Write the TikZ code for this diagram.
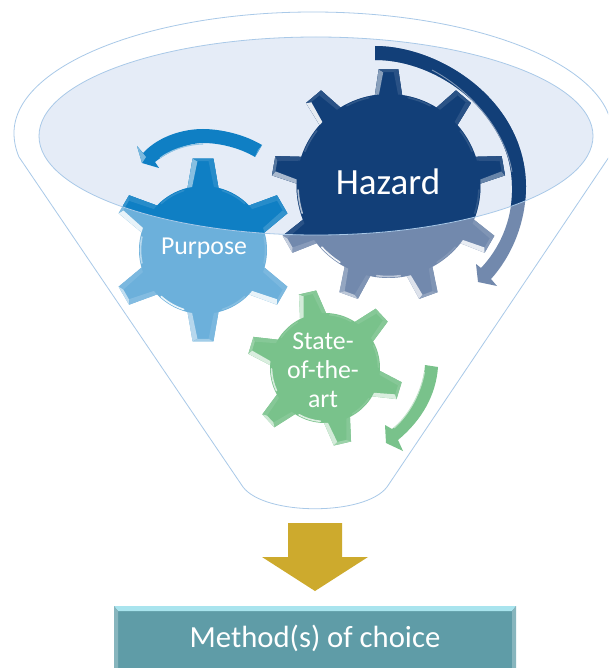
\documentclass[tikz,border=0pt]{standalone}
\usepackage{fontspec}
\setmainfont{Carlito}
\definecolor{funnelline}{HTML}{A9C9E8}
\definecolor{ellfill}{HTML}{E5ECF7}
\definecolor{hazdark}{HTML}{123F78}
\definecolor{hazlight}{HTML}{7289AD}
\definecolor{purdark}{HTML}{0F7FC4}
\definecolor{purlight}{HTML}{6CB0DB}
\definecolor{stategreen}{HTML}{79C28B}
\definecolor{arrowgold}{HTML}{CDAA2D}
\definecolor{boxteal}{HTML}{5F9CA7}
\definecolor{boxlight}{HTML}{A9E4EE}
% gear: #1 cx, #2 cy (px down), #3 body r, #4 tip R, #5 teeth, #6 rot, #7 base half angle, #8 tip half angle, #9 colour
\newcommand{\mygear}[9]{%
  \begin{scope}[shift={(#1,-#2)}]
    \fill[#9] ({#6+#7}:#3)
      \foreach \i [evaluate=\i as \a using {#6-(\i-1)*360/#5}] in {1,...,#5}{
        -- ({\a+#7}:#3) -- ({\a+#8}:#4) -- ({\a-#8}:#4) -- ({\a-#7}:#3)
        arc[start angle={\a-#7}, end angle={\a-360/#5+#7}, radius=#3]
      } -- cycle;
    \foreach \i in {1,...,#5}{
      \pgfmathsetmacro\a{#6-(\i-1)*360/#5}
      \pgfmathsetmacro\bm{12+80*max(0,cos(\a-180/#5-225))^2}
      \pgfmathsetmacro\bl{10+80*max(0,cos(\a+90-225))^2}
      \pgfmathsetmacro\br{10+80*max(0,cos(\a-90-225))^2}
      \pgfmathsetmacro\bt{12+50*max(0,cos(\a-225))^2}
      \draw[white!\bm!#9, line width=1.6pt, line cap=round]
        ({\a-#7-4}:{#3-1.5}) arc[start angle={\a-#7-4}, end angle={\a-360/#5+#7+4}, radius={#3-1.5}];
      \fill[white!\bl!#9] ({\a+#7}:#3) -- ({\a+#8}:#4) -- ({\a+0.55*#8}:{#4-3}) -- ({\a+0.7*#7}:#3) -- cycle;
      \fill[white!\br!#9] ({\a-#7}:#3) -- ({\a-#8}:#4) -- ({\a-0.55*#8}:{#4-3}) -- ({\a-0.7*#7}:#3) -- cycle;
      \fill[white!\bt!#9] ({\a+#8}:#4) -- ({\a-#8}:#4) -- ({\a-0.55*#8}:{#4-3}) -- ({\a+0.55*#8}:{#4-3}) -- cycle;
    }
  \end{scope}%
}
\newcommand{\hazardgear}[1]{\mygear{388.5}{186}{92}{117}{9}{90}{8.5}{4.8}{#1}}
\newcommand{\purposegear}[1]{\mygear{203}{250}{64}{92}{6}{90}{14}{6.5}{#1}}
\newcommand{\hazardarrow}[1]{%
  \fill[#1] (375,-46) .. controls (440,-46) and (525,-100) .. (526,-186)
    .. controls (526,-225) and (510,-258) .. (491,-279)
    -- (497,-286) -- (478,-282) -- (476,-264) -- (481,-268)
    .. controls (498,-250) and (513,-222) .. (512,-186)
    .. controls (511,-115) and (440,-60) .. (375,-60) -- cycle;
  \draw[white!45!#1, line width=0.9pt]
    (432,-70) .. controls (470,-90) and (505,-130) .. (512,-172);
}
\tikzset{
  gearlabel/.style={text=white, font=\fontsize{25.8}{29}\selectfont, align=center, inner sep=0pt},
  funnel/.style={draw=funnelline, line width=0.8pt}
}
\begin{document}
\begin{tikzpicture}[x=1pt,y=1pt]
  \clip (0,-668) rectangle (608,0);
  \fill[white] (0,-668) rectangle (608,0);
  % funnel
  \draw[funnel] (243,-487) -- (19,-157) .. controls (16,-150) and (14,-142) .. (14,-133)
    arc[start angle=180, end angle=0, x radius=299, y radius=121]
    .. controls (612,-142) and (611,-150) .. (609,-157) -- (387,-487)
    .. controls (365,-516) and (265,-516) .. (243,-487);
  \fill[ellfill] (316,-136) ellipse [x radius=277, y radius=99];
  % washed-out part of the gears
  \hazardgear{hazlight}
  \purposegear{purlight}
  \hazardarrow{hazlight}
  % part of the gears seen through the funnel mouth
  \begin{scope}
    \clip (316,-136) ellipse [x radius=277, y radius=99];
    \hazardgear{hazdark}
    \purposegear{purdark}
    \hazardarrow{hazdark}
  \end{scope}
  \draw[funnel] (316,-136) ellipse [x radius=277, y radius=99];
  % purpose arrow
  \fill[purdark] (262,-145) .. controls (240,-132) and (215,-129) .. (203,-129)
    .. controls (185,-129) and (160,-135) .. (143,-153)
    -- (137,-146) -- (142,-163) -- (159,-168) -- (155,-162)
    .. controls (170,-150) and (190,-143) .. (203,-143)
    .. controls (220,-143) and (240,-148) .. (255,-157) -- cycle;
  \draw[white!55!purdark, line width=1.1pt]
    (160,-158) .. controls (172,-149) and (190,-144) .. (203,-144);
  \fill[white!45!purdark] (137,-146) -- (142,-163) -- (146,-157) -- cycle;
  \fill[white!35!purdark] (262,-145) -- (255,-157) -- (258,-150) -- cycle;
  % state gear and arrow
  \mygear{325}{368}{55}{78}{6}{103}{14}{6.5}{stategreen}
  \fill[stategreen] (438,-367) .. controls (436,-395) and (422,-420) .. (398,-440)
    -- (403,-451) -- (386,-443) -- (385,-425) -- (392,-429)
    .. controls (410,-415) and (423,-392) .. (425,-365) -- cycle;
  \draw[white!55!stategreen, line width=1pt] (424.5,-372) .. controls (421,-392) and (410,-414) .. (394,-428);
  % texts
  \node[text=white, font=\fontsize{37}{40}\selectfont, inner sep=0pt] (hazard) at (388,-182) {Hazard};
  \node[gearlabel] (purpose) at (204,-248) {Purpose};
  \node[gearlabel] (state) at (323,-370) {State-\\of-the-\\art};
  % gold arrow
  \fill[arrowgold] (288,-523) -- (342,-523) -- (342,-557) -- (368,-557) -- (315,-591)
    -- (262,-557) -- (288,-557) -- cycle;
  % result box
  \fill[boxteal] (114,-606) rectangle (516,-668);
  \fill[boxlight] (114,-606) -- (516,-606) -- (512,-611) -- (118,-611) -- cycle;
  \fill[white!25!boxteal] (114,-606) -- (118,-611) -- (118,-668) -- (114,-668) -- cycle;
  \fill[white!25!boxteal] (516,-606) -- (512,-611) -- (512,-668) -- (516,-668) -- cycle;
  \node[text=white, font=\fontsize{30.7}{34}\selectfont, inner sep=0pt] (method) at (315,-638) {Method(s) of choice};
\end{tikzpicture}
\end{document}
